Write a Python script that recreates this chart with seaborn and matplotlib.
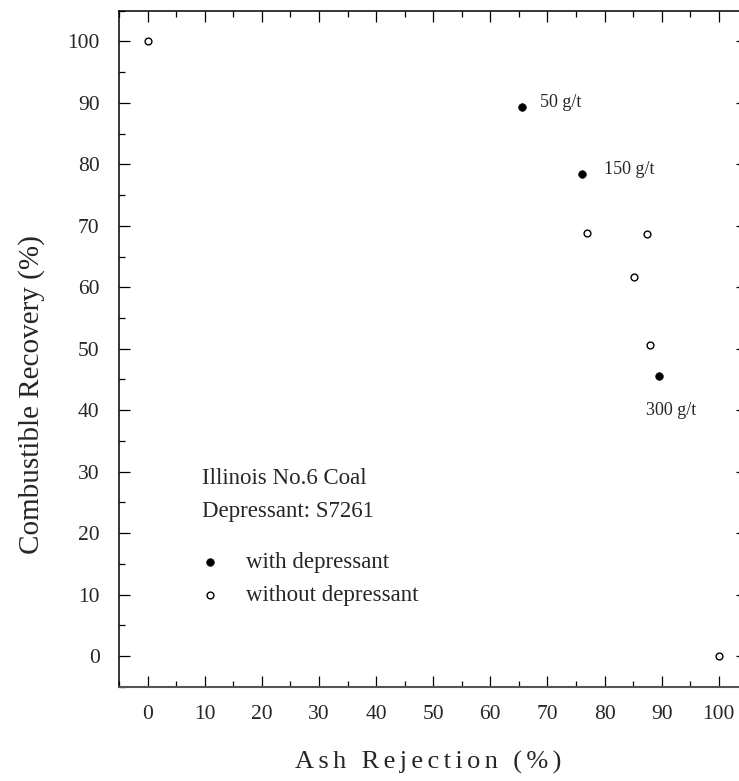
import matplotlib
matplotlib.use("Agg")
import matplotlib.pyplot as plt
import seaborn as sns
import numpy as np
from matplotlib.ticker import MultipleLocator

# ---- data ----
with_x = [65.6, 76.0, 89.6]
with_y = [89.4, 78.5, 45.5]
dose_labels = ["50 g/t", "150 g/t", "300 g/t"]
without_x = [0.0, 76.9, 87.4, 85.1, 87.9, 100.0]
without_y = [100.0, 68.8, 68.6, 61.6, 50.6, 0.0]
x_ticks = [0, 10, 20, 30, 40, 50, 60, 70, 80, 90, 100]
y_ticks = [0, 10, 20, 30, 40, 50, 60, 70, 80, 90, 100]

sns.set_style("ticks")
plt.rcParams['font.family'] = ['Liberation Serif', 'DejaVu Sans']
plt.rcParams['mathtext.fontset'] = 'stix'

fig = plt.figure(figsize=(7.39, 7.81), dpi=100)
ax = fig.add_axes([119.1/739, 94.3/781, 628.2/739, 676.0/781])

sns.scatterplot(x=with_x, y=with_y, ax=ax, marker='o', s=30, color='black',
                edgecolor='black', linewidth=0.5, label='with depressant', zorder=3)
sns.scatterplot(x=without_x, y=without_y, ax=ax, marker='o', s=24, facecolor='white',
                edgecolor='black', linewidth=1.0, label='without depressant', zorder=3)

# dose annotations
offsets = [(3.1, 0.7), (3.9, 0.6), (-2.3, -5.5)]
for xx, yy, lab, (dx, dy) in zip(with_x, with_y, dose_labels, offsets):
    ax.text(xx + dx, yy + dy, lab, fontsize=13, ha='left', va='center')

ax.text(9.45, 28.8, "Illinois No.6 Coal", fontsize=16.5, ha='left', va='center')
ax.text(9.45, 23.5, "Depressant: S7261", fontsize=16.5, ha='left', va='center')

leg = ax.legend(loc='center left', bbox_to_anchor=(5.85, 12.55), bbox_transform=ax.transData,
                frameon=False, fontsize=16.5, handletextpad=0.85, labelspacing=0.5,
                borderpad=0, handlelength=1.5, markerscale=1.0)

ax.set_xlim(-5, 105)
ax.set_ylim(-5, 105)
ax.set_xticks(x_ticks)
ax.set_yticks(y_ticks)
ax.xaxis.set_minor_locator(MultipleLocator(5))
ax.yaxis.set_minor_locator(MultipleLocator(5))
ax.tick_params(which='both', direction='in', top=True, right=True, width=0.9, color='black')
ax.tick_params(which='major', length=8.2)
ax.tick_params(which='minor', length=4.2)
ax.tick_params(axis='y', which='major', pad=14, labelsize=15.5)
ax.tick_params(axis='x', which='major', pad=13, labelsize=15.5)

for side in ['left', 'top', 'right']:
    ax.spines[side].set_linewidth(1.1)
    ax.spines[side].set_color('black')
ax.spines['bottom'].set_linewidth(1.5)
ax.spines['bottom'].set_color('#555555')

sp = "\u2006"
xl = (sp + " " + sp).join(sp.join(w) for w in ["Ash", "Rejection", "(%)"])
ax.set_xlabel(xl, fontsize=19)
ax.xaxis.set_label_coords((428 - 119.1) / 628.2, -0.095)
ax.set_ylabel("Combustible Recovery (%)", fontsize=21)
ax.yaxis.set_label_coords(-0.118, 0.4315)

fig.savefig("out.png", dpi=100)
